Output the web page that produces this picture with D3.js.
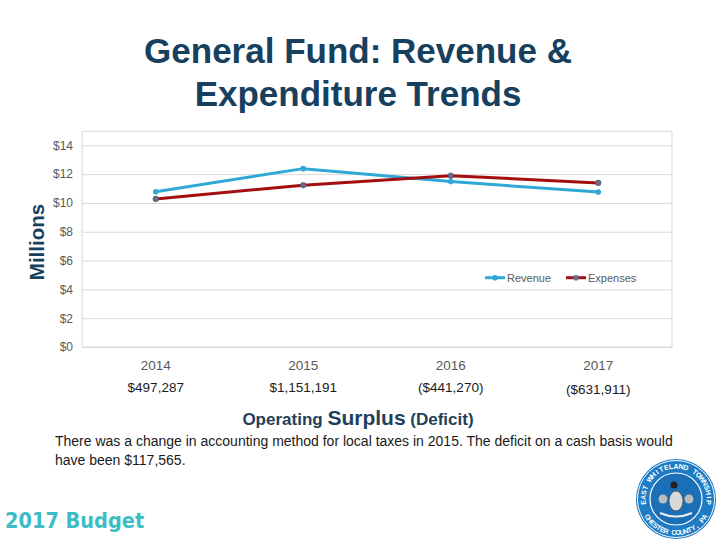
<!DOCTYPE html>
<html><head><meta charset="utf-8">
<script src="https://cdn.jsdelivr.net/npm/d3@7/dist/d3.min.js"></script>
<style>body{margin:0;background:#fff}svg{display:block}</style>
</head><body>
<svg id="c" width="720" height="540"></svg>
<script>
const years = ["2014","2015","2016","2017"];
const revenue = [10.78, 12.38, 11.48, 10.76];
const expenses = [10.28, 11.23, 11.89, 11.39];
const surplusLabels = ["$497,287","$1,151,191","($441,270)","($631,911)"];
const yTicks = [0,2,4,6,8,10,12,14];

const svg = d3.select("#c");
const navy = "#17405e";
const sans = "Liberation Sans, Arial, sans-serif";

// Title
svg.append("text").attr("x",358).attr("y",63).attr("text-anchor","middle")
  .attr("font-family",sans).attr("font-weight","bold")
  .attr("font-size",35).attr("fill",navy).text("General Fund: Revenue &");
svg.append("text").attr("x",358).attr("y",106).attr("text-anchor","middle")
  .attr("font-family",sans).attr("font-weight","bold")
  .attr("font-size",35).attr("fill",navy).text("Expenditure Trends");

// Plot
const left = 82, right = 672, bottom = 347;
const x = d3.scaleBand().domain(years).range([left,right]);
const y = d3.scaleLinear().domain([0,14]).range([bottom,145.3]);

const g = svg.append("g");
g.append("rect").attr("x",left).attr("y",y(14.97)).attr("width",right-left)
  .attr("height",bottom-y(14.97)).attr("fill","none").attr("stroke","#d9d9d9").attr("stroke-width",1);

const yAxis = d3.axisLeft(y).tickValues(yTicks).tickSize(-(right-left)).tickPadding(9)
  .tickFormat(d => "$" + d);
const ya = g.append("g").attr("transform",`translate(${left},0)`).call(yAxis);
ya.select(".domain").remove();
ya.selectAll(".tick line").attr("stroke","#d9d9d9");
ya.selectAll(".tick text").attr("fill","#595959").attr("font-size",12)
  .attr("font-family",sans);

// category labels
const xa = g.append("g").attr("transform",`translate(0,${bottom})`)
  .call(d3.axisBottom(x).tickSize(0).tickPadding(13));
xa.select(".domain").remove();
xa.selectAll(".tick text").attr("fill","#595959").attr("font-size",13.5)
  .attr("font-family",sans);

// surplus labels
g.selectAll(".surp").data(years).enter().append("text")
  .attr("x",d=>x(d)+x.bandwidth()/2)
  .attr("y",(d,i)=> i===3 ? 394 : 392)
  .attr("text-anchor","middle").attr("font-size",13.5)
  .attr("font-family",sans).attr("fill","#1a1a1a")
  .text((d,i)=>surplusLabels[i]);

const cx = d => x(d)+x.bandwidth()/2;
const line = d3.line().x((v,i)=>cx(years[i])).y(v=>y(v));
const revColor = "#2fa8d8", expColor = "#a50e0e", dotFill = "#6b6b8a";

g.append("path").attr("d",line(revenue)).attr("fill","none").attr("stroke",revColor).attr("stroke-width",3);
g.append("path").attr("d",line(expenses)).attr("fill","none").attr("stroke",expColor).attr("stroke-width",3);
g.selectAll(".rd").data(revenue).enter().append("circle")
  .attr("cx",(v,i)=>cx(years[i])).attr("cy",v=>y(v)).attr("r",2.8).attr("fill",revColor);
g.selectAll(".ed").data(expenses).enter().append("circle")
  .attr("cx",(v,i)=>cx(years[i])).attr("cy",v=>y(v)).attr("r",2.8)
  .attr("fill",dotFill).attr("stroke","#4a4a6a").attr("stroke-width",0.6);

// legend
const leg = [["Revenue",revColor,revColor,485],["Expenses",expColor,dotFill,566]];
leg.forEach(([name,c,dc,lx])=>{
  g.append("line").attr("x1",lx).attr("x2",lx+20).attr("y1",277.7).attr("y2",277.7)
    .attr("stroke",c).attr("stroke-width",3);
  g.append("circle").attr("cx",lx+10).attr("cy",277.7).attr("r",2.8).attr("fill",dc);
  g.append("text").attr("x",lx+22).attr("y",281.5).attr("font-size",11)
    .attr("font-family",sans).attr("fill","#595959").text(name);
});

// Millions
svg.append("text").attr("transform","translate(44,242) rotate(-90)").attr("text-anchor","middle")
  .attr("font-family",sans).attr("font-weight","bold")
  .attr("font-size",20.5).attr("fill",navy).text("Millions");

// Operating Surplus (Deficit)
const op = svg.append("text").attr("x",358).attr("y",425).attr("text-anchor","middle")
  .attr("font-family",sans).attr("font-weight","bold")
  .attr("fill","#1f3f5a");
op.append("tspan").attr("font-size",17).text("Operating ");
op.append("tspan").attr("font-size",21).text("Surplus");
op.append("tspan").attr("font-size",17).text(" (Deficit)");

// note
const note = ["There was a change in accounting method for local taxes in 2015. The deficit on a cash basis would",
  "have been $117,565."];
note.forEach((t,i)=>svg.append("text").attr("x",55).attr("y",446+i*19).attr("font-size",14)
  .attr("font-family",sans).attr("fill","#1a1a1a").text(t));

// 2017 Budget
svg.append("text").attr("x",5).attr("y",528).attr("font-family","DejaVu Sans Condensed, DejaVu Sans, sans-serif")
  .attr("font-weight","bold").attr("font-size",21.5).attr("fill","#3bbcc6").text("2017 Budget");

// seal
const sx = 676, sy = 499;
const seal = svg.append("g");
seal.append("circle").attr("cx",sx).attr("cy",sy).attr("r",40).attr("fill","#1d7cc4");
seal.append("circle").attr("cx",sx).attr("cy",sy).attr("r",38.5).attr("fill","none").attr("stroke","#fff").attr("stroke-width",1);
seal.append("circle").attr("cx",sx).attr("cy",sy).attr("r",26).attr("fill","#1a6fb6").attr("stroke","#fff").attr("stroke-width",1.2);
function arcText(str, r, a0, a1, bottomSide){
  const chars = str.split("");
  const n = chars.length;
  chars.forEach((ch,i)=>{
    if(ch===" ") return;
    const a = a0 + (a1-a0)*i/(n-1);
    const rad = a*Math.PI/180;
    const px = sx + r*Math.sin(rad), py = sy - r*Math.cos(rad);
    const rot = bottomSide ? a-180 : a;
    seal.append("text").attr("transform",`translate(${px.toFixed(2)},${py.toFixed(2)}) rotate(${rot.toFixed(1)})`)
      .attr("text-anchor","middle").attr("font-size",7).attr("font-weight","bold")
      .attr("font-family","Liberation Sans Narrow, Liberation Sans, sans-serif")
      .attr("fill","#fff").text(ch);
  });
}
arcText("EAST WHITELAND TOWNSHIP", 30.5, -96, 96, false);
arcText("CHESTER COUNTY, PA", 36, 238, 122, true);
seal.append("ellipse").attr("cx",sx).attr("cy",sy+2).attr("rx",7).attr("ry",10).attr("fill","#d8d8d8").attr("stroke","#333").attr("stroke-width",0.6);
seal.append("circle").attr("cx",sx-2).attr("cy",sy-14).attr("r",3.5).attr("fill","#222");
seal.append("circle").attr("cx",sx-13).attr("cy",sy).attr("r",4.5).attr("fill","#bbb");
seal.append("circle").attr("cx",sx+13).attr("cy",sy).attr("r",4.5).attr("fill","#bbb");
seal.append("path").attr("d",`M ${sx-16},${sy+14} Q ${sx},${sy+21} ${sx+16},${sy+14}`).attr("fill","none").attr("stroke","#eee").attr("stroke-width",2);
</script>
</body></html>
